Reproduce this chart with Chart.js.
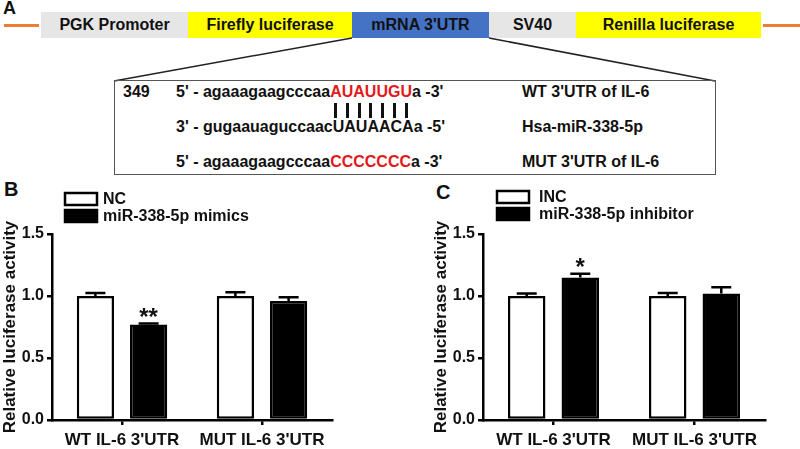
<!DOCTYPE html>
<html>
<head>
<meta charset="utf-8">
<script src="https://cdn.jsdelivr.net/npm/chart.js@4.4.0/dist/chart.umd.min.js"></script>
<style>
  body { margin: 0; width: 800px; height: 449px; background: #fff; position: relative; overflow: hidden;
         font-family: Arial, "Liberation Sans", sans-serif; font-weight: bold; color: #111; }
  .abs { position: absolute; white-space: nowrap; }
  .seg { position: absolute; top: 12px; height: 26px; line-height: 26px; text-align: center; font-size: 16px; }
  .row { position: absolute; font-size: 16px; height: 20px; line-height: 20px; white-space: nowrap; }
  .red { color: #e3191c; }
  .pair { position: absolute; top: 103px; width: 3px; height: 15px; background: #111; }
  canvas { position: absolute; }
</style>
</head>
<body>
<!-- panel A -->
<div class="abs" style="left:3px;top:-2px;font-size:18px;">A</div>
<div class="abs" style="left:4px;top:24px;width:35px;height:3px;background:#ed7d31;"></div>
<div class="abs" style="left:763px;top:24px;width:37px;height:3px;background:#ed7d31;"></div>
<div class="seg" style="left:41px;width:147px;background:#e6e6e6;">PGK Promoter</div>
<div class="seg" style="left:188px;width:164px;background:#ffff00;">Firefly luciferase</div>
<div class="seg" style="left:352px;width:137px;background:#4472c4;">mRNA 3'UTR</div>
<div class="seg" style="left:489px;width:87px;background:#e6e6e6;">SV40</div>
<div class="seg" style="left:576px;width:185px;background:#ffff00;">Renilla luciferase</div>
<svg class="abs" style="left:0;top:0" width="800" height="100">
  <line x1="352" y1="38" x2="114" y2="81" stroke="#222" stroke-width="1.5"/>
  <line x1="489" y1="38" x2="715" y2="81" stroke="#222" stroke-width="1.5"/>
</svg>
<div class="abs" style="left:114px;top:80px;width:602px;height:95px;border:1.5px solid #555;box-sizing:border-box;"></div>
<div class="row" style="left:123px;top:82px;">349</div>
<div class="row" style="left:176px;top:82px;">5' - agaaagaagcccaa<span class="red" id="seed"></span>a -3'</div>
<div class="row" style="left:176px;top:117px;">3' - gugaauaguccaacUAUAACAa -5'</div>
<div class="row" style="left:176px;top:152px;">5' - agaaagaagcccaa<span class="red">CCCCCCC</span>a -3'</div>
<div class="row" style="left:522px;top:82px;">WT 3'UTR of IL-6</div>
<div class="row" style="left:522px;top:117px;">Hsa-miR-338-5p</div>
<div class="row" style="left:522px;top:152px;">MUT 3'UTR of IL-6</div>

<!-- panels B and C -->
<div class="abs" style="left:4px;top:178px;font-size:20px;">B</div>
<div class="abs" style="left:436px;top:181px;font-size:20px;">C</div>
<canvas id="chartB" width="400" height="269" style="left:0;top:180px;"></canvas>
<canvas id="chartC" width="369" height="269" style="left:431px;top:180px;"></canvas>

<script>
const seedLetters = ['A', 'U', 'A', 'U', 'U', 'G', 'U']

const categories = ["WT IL-6 3'UTR", "MUT IL-6 3'UTR"]
const yTicks = [0, 0.5, 1.0, 1.5]

const labelsB = ['NC', 'miR-338-5p mimics']
const ncValues = [1.00, 1.00]
const ncErrors = [0.025, 0.03]
const mimicValues = [0.77, 0.96]
const mimicErrors = [0.008, 0.03]
const mimicStars = ['**', '']

const labelsC = ['INC', 'miR-338-5p inhibitor']
const incValues = [1.00, 1.00]
const incErrors = [0.02, 0.025]
const inhibitorValues = [1.15, 1.02]
const inhibitorErrors = [0.03, 0.05]
const inhibitorStars = ['*', '']

// seed region letters + base-pair bars under them
const seed = document.getElementById('seed')
seedLetters.forEach(l => {
  const s = document.createElement('span')
  s.textContent = l
  seed.appendChild(s)
})
Array.from(seed.children).forEach(s => {
  const r = s.getBoundingClientRect()
  const bar = document.createElement('div')
  bar.className = 'pair'
  bar.style.left = (r.left + r.width / 2 - 1.5) + 'px'
  document.body.appendChild(bar)
})

const FONT = 'Arial, "Liberation Sans", sans-serif'

const errorBars = {
  id: 'errorBars',
  afterDatasetsDraw (chart) {
    const ctx = chart.ctx
    const y = chart.scales.y
    chart.data.datasets.forEach((ds, i) => {
      chart.getDatasetMeta(i).data.forEach((bar, j) => {
        const top = y.getPixelForValue(ds.data[j] + ds.errors[j])
        ctx.save()
        ctx.strokeStyle = '#000'
        ctx.lineWidth = 2.5
        ctx.beginPath()
        ctx.moveTo(bar.x, bar.y)
        ctx.lineTo(bar.x, top)
        ctx.moveTo(bar.x - 10, top)
        ctx.lineTo(bar.x + 10, top)
        ctx.stroke()
        if (ds.stars && ds.stars[j]) {
          ctx.fillStyle = '#111'
          ctx.font = 'bold 24px ' + FONT
          ctx.textAlign = 'center'
          ctx.fillText(ds.stars[j], bar.x, top + 1)
        }
        ctx.restore()
      })
    })
  }
}

const stackedLegend = {
  id: 'stackedLegend',
  afterDraw (chart, args, opts) {
    const ctx = chart.ctx
    ctx.save()
    chart.data.datasets.forEach((ds, i) => {
      const top = opts.top + i * opts.gap
      ctx.fillStyle = ds.backgroundColor
      ctx.fillRect(opts.left, top, 32, 12)
      ctx.strokeStyle = '#000'
      ctx.lineWidth = 2.5
      ctx.strokeRect(opts.left, top, 32, 12)
      ctx.fillStyle = '#111'
      ctx.font = 'bold 16px ' + FONT
      ctx.textBaseline = 'middle'
      ctx.fillText(ds.label, opts.left + 32 + opts.textGap, top + 7)
    })
    ctx.restore()
  }
}

function makeChart (id, labels, values, errors, stars, padRight, legendPos) {
  const ds = (label, data, err, color, st) => ({
    label,
    data,
    errors: err,
    stars: st,
    backgroundColor: color,
    borderColor: '#000',
    borderWidth: 2.5,
    borderSkipped: false,
    categoryPercentage: 0.76,
    barPercentage: 0.7
  })
  return new Chart(document.getElementById(id), {
    type: 'bar',
    data: {
      labels: categories,
      datasets: [
        ds(labels[0], values[0], errors[0], '#ffffff', null),
        ds(labels[1], values[1], errors[1], '#000000', stars)
      ]
    },
    options: {
      responsive: false,
      animation: false,
      layout: { padding: { top: 54, right: padRight, left: 0, bottom: 0 } },
      plugins: {
        legend: { display: false },
        tooltip: { enabled: false },
        stackedLegend: legendPos
      },
      scales: {
        x: {
          afterFit: s => { s.height = 29 },
          border: { color: '#000', width: 2.5 },
          grid: { offset: false, drawOnChartArea: false, drawTicks: true, tickLength: 5, color: '#000', lineWidth: 2.5 },
          ticks: { color: '#111', padding: 5, font: { family: FONT, size: 17, weight: 'bold' } }
        },
        y: {
          min: 0,
          max: 1.5,
          afterFit: s => { s.width = 52 },
          afterBuildTicks: s => { s.ticks = yTicks.map(v => ({ value: v })) },
          border: { color: '#000', width: 2.5 },
          grid: { drawOnChartArea: false, drawTicks: true, tickLength: 5, color: '#000', lineWidth: 2.5 },
          ticks: { color: '#111', padding: 3, callback: v => v.toFixed(1), font: { family: FONT, size: 16, weight: 'bold' } },
          title: { display: true, text: 'Relative luciferase activity', color: '#111', padding: 0, font: { family: FONT, size: 17, weight: 'bold' } }
        }
      }
    },
    plugins: [errorBars, stackedLegend]
  })
}

makeChart('chartB', labelsB, [ncValues, mimicValues], [ncErrors, mimicErrors], mimicStars, 68,
  { left: 65, top: 13, gap: 17, textGap: 6 })
makeChart('chartC', labelsC, [incValues, inhibitorValues], [incErrors, inhibitorErrors], inhibitorStars, 35,
  { left: 66, top: 11, gap: 17, textGap: 10 })
</script>
</body>
</html>
